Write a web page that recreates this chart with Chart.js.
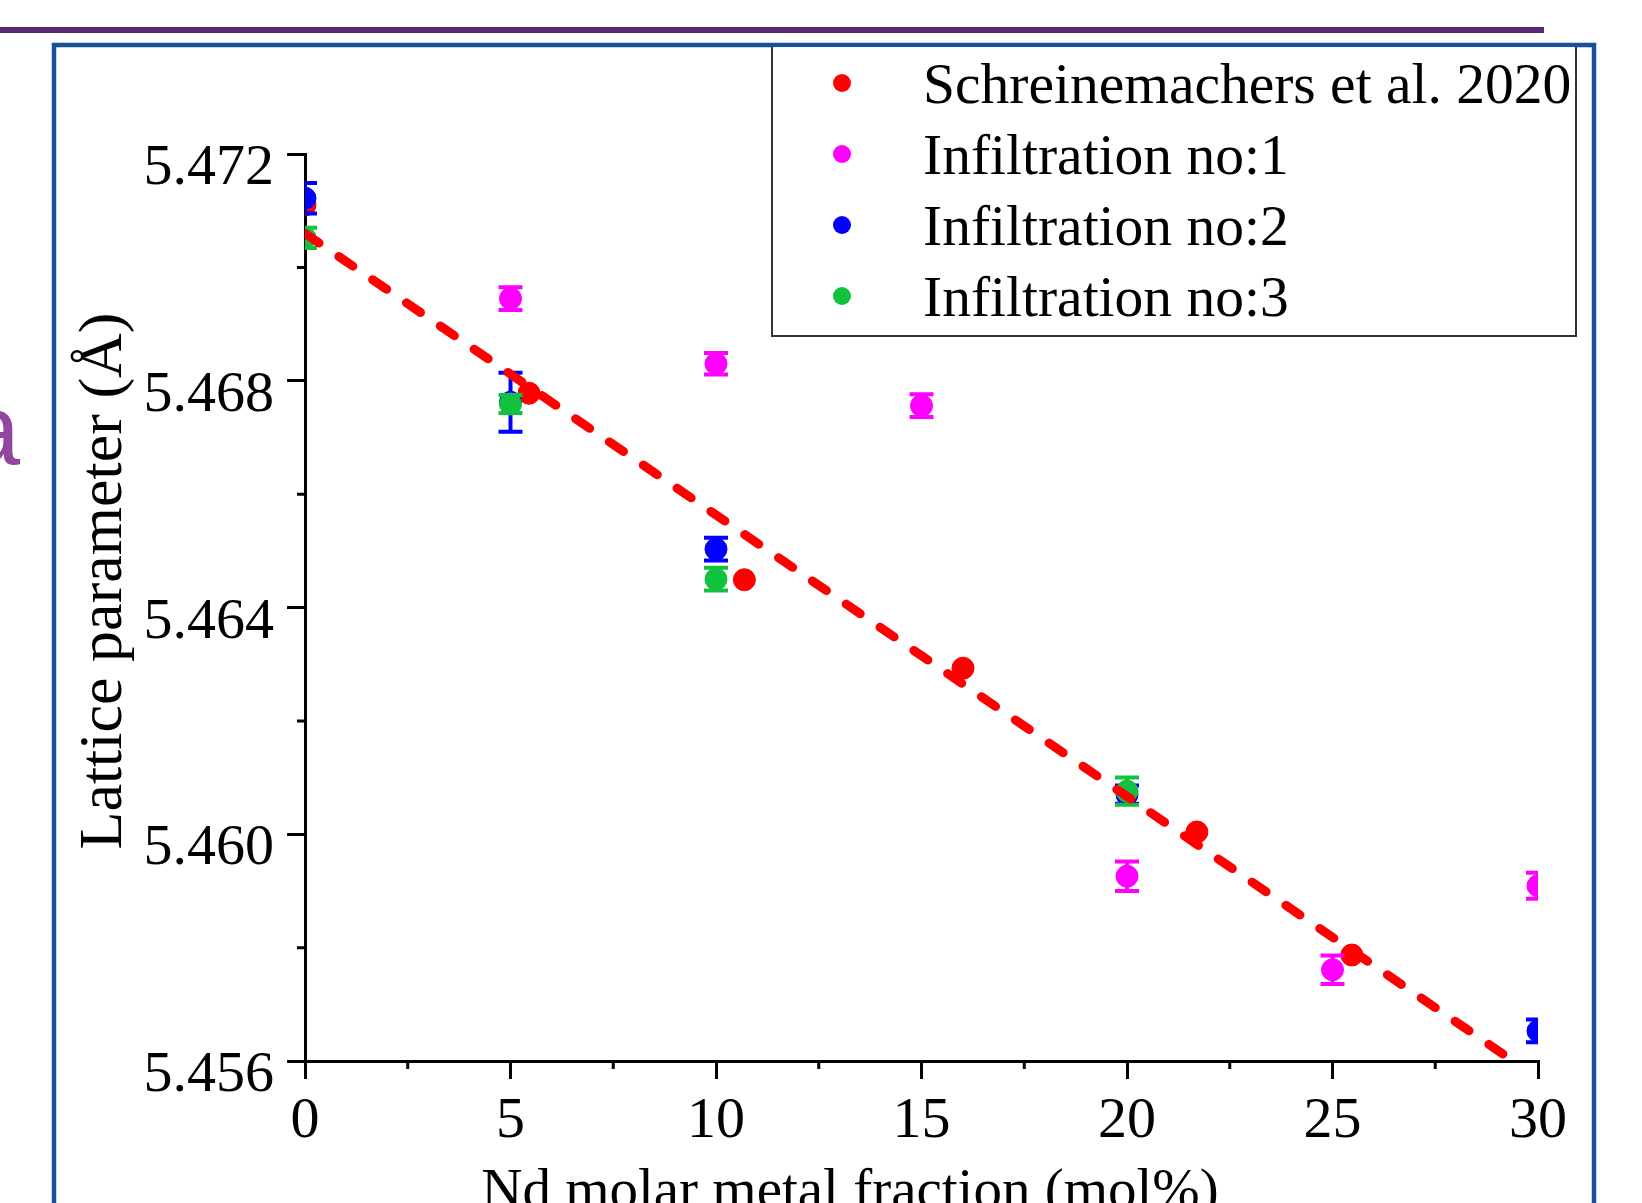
<!DOCTYPE html>
<html>
<head>
<meta charset="utf-8">
<title>Lattice parameter vs Nd fraction</title>
<script src="https://cdn.jsdelivr.net/npm/chart.js@4.4.1/dist/chart.umd.min.js"></script>
<style>
  body { margin: 0; background: #fff; }
  canvas { display: block; }
</style>
</head>
<body>
<canvas id="latticeChart" width="1642" height="1203"></canvas>
<script>
// values
const seriesNames = ['Schreinemachers et al. 2020', 'Infiltration no:1', 'Infiltration no:2', 'Infiltration no:3'];

const schreinX = [0, 5.45, 10.69, 16.01, 21.7, 25.47, 30];
const schreinY = [5.4711, 5.46778, 5.46449, 5.46293, 5.46004, 5.45787, 5.4555];

const inf1X = [5, 10, 15, 20, 25, 30];
const inf1Y = [5.46945, 5.4683, 5.46756, 5.45926, 5.45761, 5.45909];
const inf1Err = [0.0002, 0.00019, 0.0002, 0.00026, 0.00025, 0.00023];

const inf2X = [0, 5, 10, 20, 30];
const inf2Y = [5.47122, 5.46762, 5.46503, 5.4607, 5.45653];
const inf2Err = [0.00027, 0.00052, 0.0002, 0.00016, 0.0002];

const inf3X = [0, 5, 10, 20, 30];
const inf3Y = [5.47052, 5.46759, 5.4645, 5.46076, 5.4555];
const inf3Err = [0.00018, 0.00016, 0.0002, 0.00024, 0.0001];

// dashed linear fit, its two end points
const fitX = [0, 30];
const fitY = [5.4706, 5.4557];

const xTicks = [0, 5, 10, 15, 20, 25, 30];
const xMinorTicks = [2.5, 7.5, 12.5, 17.5, 22.5, 27.5];
const yTicks = [5.456, 5.460, 5.464, 5.468, 5.472];
const yMinorTicks = [5.458, 5.462, 5.466, 5.470];

const RED = '#ff0000';
const MAGENTA = '#ff00ff';
const BLUE = '#0000ff';
const GREEN = '#12c23e';
const SERIF = "'Liberation Serif', 'Times New Roman', serif";

function pts(xs, ys) {
  return xs.map((x, i) => ({ x: x, y: ys[i] }));
}

// vertical error bars with caps, drawn right after each dataset
const errorBars = {
  id: 'errorBars',
  afterDatasetDraw(chart, args) {
    const ds = chart.data.datasets[args.index];
    if (!ds.errors) return;
    const { ctx, chartArea, scales } = chart;
    ctx.save();
    ctx.beginPath();
    ctx.rect(chartArea.left, chartArea.top, chartArea.right - chartArea.left, chartArea.bottom - chartArea.top);
    ctx.clip();
    ctx.strokeStyle = ds.backgroundColor;
    ctx.lineWidth = 4;
    ds.data.forEach((p, i) => {
      const px = scales.x.getPixelForValue(p.x);
      const top = scales.y.getPixelForValue(p.y + ds.errors[i]);
      const bot = scales.y.getPixelForValue(p.y - ds.errors[i]);
      ctx.beginPath();
      ctx.moveTo(px, top); ctx.lineTo(px, bot);
      ctx.moveTo(px - 12, top); ctx.lineTo(px + 12, top);
      ctx.moveTo(px - 12, bot); ctx.lineTo(px + 12, bot);
      ctx.stroke();
    });
    ctx.restore();
  }
};

// slide bits behind the chart: purple rule, blue frame, cut-off letter
const slideBackground = {
  id: 'slideBackground',
  beforeDraw(chart) {
    const ctx = chart.ctx;
    ctx.save();
    ctx.fillStyle = '#fff';
    ctx.fillRect(0, 0, chart.width, chart.height);
    ctx.fillStyle = '#5a2a73';
    ctx.fillRect(0, 27, 1544, 6);
    ctx.strokeStyle = '#17509c';
    ctx.lineWidth = 4.5;
    ctx.beginPath();
    ctx.moveTo(54, 1215);
    ctx.lineTo(54, 45);
    ctx.lineTo(1594, 45);
    ctx.lineTo(1594, 1215);
    ctx.stroke();
    ctx.fillStyle = '#9346a0';
    ctx.font = "100px 'Liberation Sans', Arial, sans-serif";
    ctx.textAlign = 'right';
    ctx.textBaseline = 'alphabetic';
    ctx.fillText('a', 20, 464);
    ctx.restore();
  }
};

// minor ticks, legend box and axis titles
const extras = {
  id: 'extras',
  afterDraw(chart) {
    const { ctx, chartArea, scales } = chart;
    ctx.save();
    ctx.strokeStyle = '#000';
    ctx.lineWidth = 3;
    ctx.beginPath();
    xMinorTicks.forEach(v => {
      const px = scales.x.getPixelForValue(v);
      ctx.moveTo(px, chartArea.bottom);
      ctx.lineTo(px, chartArea.bottom + 8);
    });
    yMinorTicks.forEach(v => {
      const py = scales.y.getPixelForValue(v);
      ctx.moveTo(chartArea.left, py);
      ctx.lineTo(chartArea.left - 8, py);
    });
    ctx.stroke();

    // legend
    ctx.fillStyle = '#fff';
    ctx.fillRect(772, 47, 804, 289);
    ctx.strokeStyle = '#333';
    ctx.lineWidth = 2;
    ctx.beginPath();
    ctx.moveTo(772, 47);
    ctx.lineTo(772, 336);
    ctx.lineTo(1576, 336);
    ctx.lineTo(1576, 47);
    ctx.stroke();
    const legendColors = [RED, MAGENTA, BLUE, GREEN];
    ctx.font = '57.5px ' + SERIF;
    ctx.textAlign = 'left';
    ctx.textBaseline = 'alphabetic';
    seriesNames.forEach((name, i) => {
      const cy = 83 + 71 * i;
      ctx.fillStyle = legendColors[i];
      ctx.beginPath();
      ctx.arc(842, cy, 9, 0, Math.PI * 2);
      ctx.fill();
      ctx.fillStyle = '#000';
      ctx.fillText(name, 923, cy + 20);
    });

    // axis titles
    ctx.fillStyle = '#000';
    ctx.font = '57px ' + SERIF;
    ctx.textAlign = 'center';
    ctx.fillText('Nd molar metal fraction (mol%)', 850, 1208);
    ctx.save();
    ctx.translate(121, 581);
    ctx.rotate(-Math.PI / 2);
    ctx.font = '62px ' + SERIF;
    ctx.fillText('Lattice parameter (Å)', 0, 0);
    ctx.restore();
    ctx.restore();
  }
};

const ctx = document.getElementById('latticeChart').getContext('2d');
new Chart(ctx, {
  type: 'scatter',
  data: {
    datasets: [
      {
        type: 'line', label: 'fit', data: pts(fitX, fitY),
        borderColor: RED, borderWidth: 9, borderDash: [17, 24], borderCapStyle: 'round',
        pointRadius: 0, fill: false, order: 0, clip: 0
      },
      { label: seriesNames[3], data: pts(inf3X, inf3Y), errors: inf3Err, backgroundColor: GREEN, borderColor: GREEN, pointRadius: 11, order: 1, clip: 0 },
      { label: seriesNames[2], data: pts(inf2X, inf2Y), errors: inf2Err, backgroundColor: BLUE, borderColor: BLUE, pointRadius: 11, order: 2, clip: 0 },
      { label: seriesNames[1], data: pts(inf1X, inf1Y), errors: inf1Err, backgroundColor: MAGENTA, borderColor: MAGENTA, pointRadius: 11, order: 3, clip: 0 },
      { label: seriesNames[0], data: pts(schreinX, schreinY), backgroundColor: RED, borderColor: RED, pointRadius: 11, order: 4, clip: 0 }
    ]
  },
  options: {
    responsive: false,
    animation: false,
    layout: { padding: { top: 154, right: 104, bottom: 0, left: 0 } },
    plugins: { legend: { display: false }, tooltip: { enabled: false } },
    scales: {
      x: {
        type: 'linear', min: 0, max: 30,
        afterBuildTicks: s => { s.ticks = xTicks.map(v => ({ value: v })); },
        afterFit: s => { s.height = 142; },
        border: { display: true, color: '#000', width: 3 },
        grid: { drawOnChartArea: false, drawTicks: true, tickLength: 18, color: '#000', lineWidth: 3 },
        ticks: { color: '#000', padding: 14, font: { family: SERIF, size: 58, lineHeight: 1 }, callback: v => String(v) }
      },
      y: {
        type: 'linear', min: 5.456, max: 5.472,
        afterBuildTicks: s => { s.ticks = yTicks.map(v => ({ value: v })); },
        afterFit: s => { s.width = 305; },
        border: { display: true, color: '#000', width: 3 },
        grid: { drawOnChartArea: false, drawTicks: true, tickLength: 18, color: '#000', lineWidth: 3 },
        ticks: { color: '#000', padding: 13, labelOffset: 15, font: { family: SERIF, size: 58 }, callback: v => v.toFixed(3) }
      }
    }
  },
  plugins: [slideBackground, errorBars, extras]
});
</script>
</body>
</html>
